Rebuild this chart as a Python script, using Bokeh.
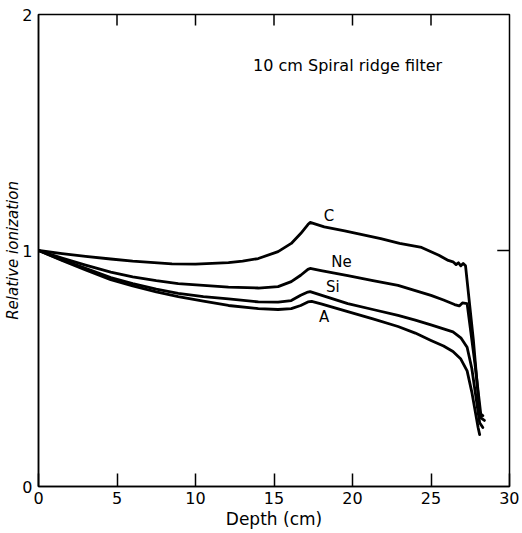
from bokeh.plotting import figure
from bokeh.models import FixedTicker, Label, Range1d
from bokeh.embed import file_html
from bokeh.resources import INLINE

# --- data ---
c_x = [0, 1.5, 3, 4.6, 6, 8.5, 10, 12.1, 13.0, 14.0, 15.26, 16.1, 16.7, 17.16, 17.3, 18.2, 19.5, 21.8, 23.0, 24.4,
       25.5, 26.1, 26.4, 26.6, 26.75, 26.9, 27.05, 27.2, 27.7, 28.1, 28.3]
c_y = [1.0, 0.987, 0.975, 0.964, 0.955, 0.943, 0.942, 0.949, 0.955, 0.966, 0.995, 1.03, 1.072, 1.11, 1.119, 1.10, 1.083, 1.05, 1.03, 1.013,
       0.98, 0.958, 0.952, 0.94, 0.948, 0.935, 0.945, 0.935, 0.62, 0.31, 0.30]

ne_x = [0, 1.5, 3, 4.6, 6, 7.5, 8.9, 10.5, 12.1, 14.0, 15.26, 16.1, 16.7, 17.16, 17.3, 18.0, 19.7, 21.3, 22.9, 24.0,
        25.0, 25.8, 26.5, 26.8, 27.0, 27.3, 27.8, 28.2, 28.4]
ne_y = [1.0, 0.968, 0.938, 0.908, 0.888, 0.872, 0.86, 0.852, 0.845, 0.841, 0.847, 0.868, 0.895, 0.92, 0.924, 0.915, 0.894, 0.872, 0.852, 0.83,
        0.81, 0.79, 0.771, 0.765, 0.778, 0.775, 0.52, 0.29, 0.28]

si_x = [0, 1.5, 3, 4.6, 6, 7.5, 8.9, 10.5, 12.1, 14.0, 15.26, 16.1, 16.7, 17.16, 17.3, 17.8, 19.7, 21.3, 22.9, 24.0,
        25.0, 25.8, 26.4, 26.9, 27.3, 27.6, 28.1, 28.3]
si_y = [1.0, 0.96, 0.924, 0.885, 0.86, 0.836, 0.818, 0.805, 0.795, 0.782, 0.781, 0.788, 0.81, 0.824, 0.826, 0.815, 0.775, 0.75, 0.725, 0.705,
        0.685, 0.668, 0.655, 0.63, 0.59, 0.5, 0.27, 0.25]

a_x = [0, 1.5, 3, 4.6, 6, 7.5, 8.9, 10.5, 12.1, 14.0, 15.26, 16.1, 16.7, 17.16, 17.4, 18.0, 19.7, 21.3, 22.9, 24.0,
       25.0, 25.8, 26.4, 26.9, 27.3, 27.6, 28.0, 28.1]
a_y = [1.0, 0.958, 0.918, 0.876, 0.85, 0.825, 0.805, 0.785, 0.767, 0.754, 0.75, 0.754, 0.767, 0.782, 0.784, 0.774, 0.741, 0.71, 0.678, 0.65,
       0.619, 0.595, 0.572, 0.54, 0.49, 0.40, 0.25, 0.22]

series_names = ["C", "Ne", "Si", "A"]
label_x = [18.5, 19.3, 18.75, 18.2]
label_y = [1.148, 0.953, 0.847, 0.72]

x_ticks = [0, 5, 10, 15, 20, 25, 30]
top_ticks = [5, 10, 15, 20, 25]
right_ticks = [1]
y_ticks = [0, 1, 2]
title_text = "10 cm Spiral ridge filter"

FONT = "DejaVu Sans"
X0, X1, Y0, Y1 = 0, 30, 0, 2

p = figure(width=519, height=531, output_backend="svg", toolbar_location=None,
           x_range=Range1d(X0, X1), y_range=Range1d(Y0, Y1),
           min_border_left=38, min_border_right=10, min_border_top=14, min_border_bottom=30)
p.grid.visible = False
p.outline_line_color = "black"
p.outline_line_width = 1.5
p.background_fill_color = "white"
p.border_fill_color = "white"

# bottom axis
xa = p.xaxis[0]
xa.ticker = FixedTicker(ticks=x_ticks)
xa.major_tick_in = 13
xa.major_tick_out = 0
xa.minor_tick_line_color = None
xa.axis_line_width = 1.5
xa.major_tick_line_width = 1.5
xa.major_label_text_font = FONT
xa.major_label_text_font_size = "16px"
xa.major_label_text_color = "black"
xa.major_label_standoff = 5
xa.axis_label = "Depth (cm)"
xa.axis_label_text_font = FONT
xa.axis_label_text_font_size = "17px"
xa.axis_label_text_font_style = "normal"
xa.axis_label_text_color = "black"
xa.axis_label_standoff = 2

# left axis
ya = p.yaxis[0]
ya.ticker = FixedTicker(ticks=y_ticks)
ya.major_tick_in = 0
ya.major_tick_out = 0
ya.minor_tick_line_color = None
ya.axis_line_width = 1.5
ya.major_label_text_font = FONT
ya.major_label_text_font_size = "16px"
ya.major_label_text_color = "black"
ya.major_label_standoff = 6
ya.axis_label = "Relative ionization"
ya.axis_label_text_font = FONT
ya.axis_label_text_font_size = "15px"
ya.axis_label_text_font_style = "italic"
ya.axis_label_text_color = "black"
ya.axis_label_standoff = -3

# inward tick marks on top and right edges (lengths in data units)
top_len = 0.047
right_len = 0.78
p.segment(x0=top_ticks, y0=[Y1] * len(top_ticks), x1=top_ticks, y1=[Y1 - top_len] * len(top_ticks),
          line_color="black", line_width=1.5)
p.segment(x0=[X1] * len(right_ticks), y0=right_ticks, x1=[X1 - right_len] * len(right_ticks), y1=right_ticks,
          line_color="black", line_width=1.5)

for xs, ys in [(c_x, c_y), (ne_x, ne_y), (si_x, si_y), (a_x, a_y)]:
    p.line(xs, ys, line_color="black", line_width=2.8, line_join="round", line_cap="round")

for name, lx, ly in zip(series_names, label_x, label_y):
    p.add_layout(Label(x=lx, y=ly, text=name, text_font=FONT, text_font_size="15px",
                       text_align="center", text_baseline="middle", text_color="black"))

p.add_layout(Label(x=13.67, y=1.784, text=title_text, text_font=FONT, text_font_size="16px",
                   text_align="left", text_baseline="middle", text_color="black"))

open("out.html", "w").write(file_html(p, INLINE))
